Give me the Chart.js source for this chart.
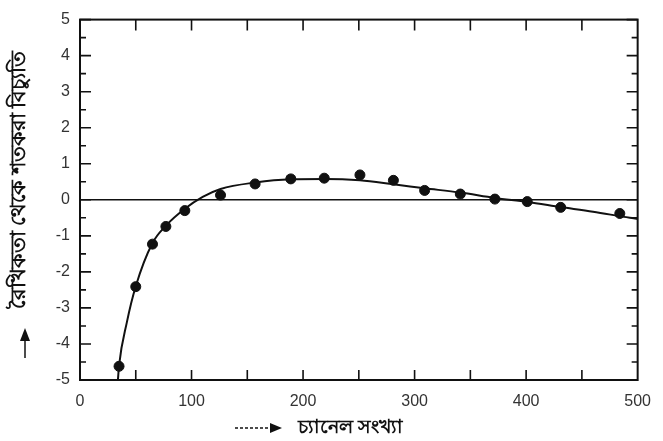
<!DOCTYPE html>
<html>
<head>
<meta charset="utf-8">
<script src="https://cdn.jsdelivr.net/npm/chart.js@4.4.1/dist/chart.umd.min.js"></script>
<style>
  html, body { margin: 0; padding: 0; background: #fff; }
  #wrap { width: 663px; height: 441px; }
</style>
</head>
<body>
<div id="wrap"><canvas id="linChart"></canvas></div>
<script>
// --- measured points (channel number vs % deviation from linearity) ---
const channelNo = [35, 50, 65, 77, 94, 126, 157, 189, 219, 251, 281, 309, 341, 372, 401, 431, 484];
const deviation = [-4.62, -2.41, -1.23, -0.74, -0.30, 0.13, 0.44, 0.58, 0.60, 0.69, 0.54, 0.26, 0.16, 0.02, -0.05, -0.21, -0.38];

// --- fitted curve ---
const curveX = [34, 35, 42, 50, 65, 77, 94, 110, 126, 157, 189, 220, 251, 281, 309, 341, 372, 401, 431, 460, 493, 500];
const curveY = [-5.0, -4.6, -3.4, -2.4, -1.2, -0.72, -0.25, 0.08, 0.30, 0.48, 0.57, 0.58, 0.54, 0.43, 0.32, 0.20, 0.05, -0.06, -0.20, -0.33, -0.50, -0.53];

// --- axis tick labels ---
const xTickLabels = [0, 100, 200, 300, 400, 500];
const yTickLabels = [5, 4, 3, 2, 1, 0, -1, -2, -3, -4, -5];

const xTitle = 'চ্যানেল সংখ্যা';
const yTitle = 'রৈখিকতা থেকে শতকরা বিচ্যুতি';

// frame, inward ticks, titles and arrows
const framePlugin = {
    id: 'framePlugin',
    afterDraw(chart) {
        const ctx = chart.ctx;
        const a = chart.chartArea;
        const xs = chart.scales.x, ys = chart.scales.y;
        ctx.save();
        ctx.strokeStyle = '#111';
        ctx.lineWidth = 2;
        ctx.strokeRect(a.left, a.top, a.right - a.left, a.bottom - a.top);

        ctx.lineWidth = 1.6;
        ctx.beginPath();
        for (let v = -5; v <= 5; v += 0.5) {
            const py = ys.getPixelForValue(v);
            const len = Number.isInteger(v) ? 11 : 6;
            ctx.moveTo(a.left, py); ctx.lineTo(a.left + len, py);
            ctx.moveTo(a.right, py); ctx.lineTo(a.right - len, py);
        }
        for (let v = 50; v < 500; v += 50) {
            const px = xs.getPixelForValue(v);
            ctx.moveTo(px, a.bottom); ctx.lineTo(px, a.bottom - 10);
            ctx.moveTo(px, a.top); ctx.lineTo(px, a.top + 11);
        }
        ctx.stroke();

        // y title (rotated) + arrow
        ctx.fillStyle = '#111';
        ctx.save();
        ctx.translate(19, 180);
        ctx.rotate(-Math.PI / 2);
        ctx.font = 'bold 21px "Noto Sans", "DejaVu Sans", sans-serif';
        ctx.textAlign = 'center';
        ctx.textBaseline = 'middle';
        ctx.fillText(yTitle, 0, 0);
        ctx.restore();

        ctx.lineWidth = 1.5;
        ctx.beginPath();
        ctx.moveTo(25, 358); ctx.lineTo(25, 338);
        ctx.stroke();
        ctx.beginPath();
        ctx.moveTo(25, 328); ctx.lineTo(20, 341); ctx.lineTo(30, 341); ctx.closePath();
        ctx.fill();

        // x title + arrow
        ctx.setLineDash([3, 2]);
        ctx.beginPath();
        ctx.moveTo(235, 428); ctx.lineTo(272, 428);
        ctx.stroke();
        ctx.setLineDash([]);
        ctx.beginPath();
        ctx.moveTo(282, 428); ctx.lineTo(270, 423); ctx.lineTo(270, 433); ctx.closePath();
        ctx.fill();

        ctx.font = 'bold 19px "Noto Sans", "DejaVu Sans", sans-serif';
        ctx.textAlign = 'left';
        ctx.textBaseline = 'middle';
        ctx.fillText(xTitle, 298, 428);
        ctx.restore();
    }
};

new Chart(document.getElementById('linChart'), {
    type: 'scatter',
    data: {
        datasets: [
            {
                type: 'line',
                label: 'fit',
                data: curveX.map((x, i) => ({ x: x, y: curveY[i] })),
                borderColor: '#111',
                borderWidth: 2,
                pointRadius: 0,
                cubicInterpolationMode: 'monotone',
                fill: false
            },
            {
                label: 'measured',
                data: channelNo.map((x, i) => ({ x: x, y: deviation[i] })),
                backgroundColor: '#111',
                borderColor: '#111',
                pointRadius: 5,
                pointHoverRadius: 5
            }
        ]
    },
    options: {
        responsive: true,
        maintainAspectRatio: false,
        animation: false,
        layout: { padding: { top: 15, right: 23, left: 0, bottom: 0 } },
        plugins: {
            legend: { display: false },
            tooltip: { enabled: false }
        },
        scales: {
            x: {
                type: 'linear',
                min: 0,
                max: 500,
                afterFit: s => { s.height = 61; },
                afterBuildTicks: s => { s.ticks = xTickLabels.map(v => ({ value: v })); },
                grid: { display: false, drawTicks: false },
                border: { display: false },
                ticks: {
                    padding: 12,
                    color: '#333',
                    font: { size: 16, family: "'Liberation Sans', sans-serif" }
                }
            },
            y: {
                min: -5,
                max: 5,
                afterFit: s => { s.width = 80; },
                afterBuildTicks: s => { s.ticks = yTickLabels.map(v => ({ value: v })); },
                grid: {
                    drawTicks: false,
                    lineWidth: 1.6,
                    color: c => (c.tick && c.tick.value === 0) ? '#111' : 'rgba(0,0,0,0)'
                },
                border: { display: false },
                ticks: {
                    padding: 10,
                    color: '#333',
                    font: { size: 16, family: "'Liberation Sans', sans-serif" }
                }
            }
        }
    },
    plugins: [framePlugin]
});
</script>
</body>
</html>
